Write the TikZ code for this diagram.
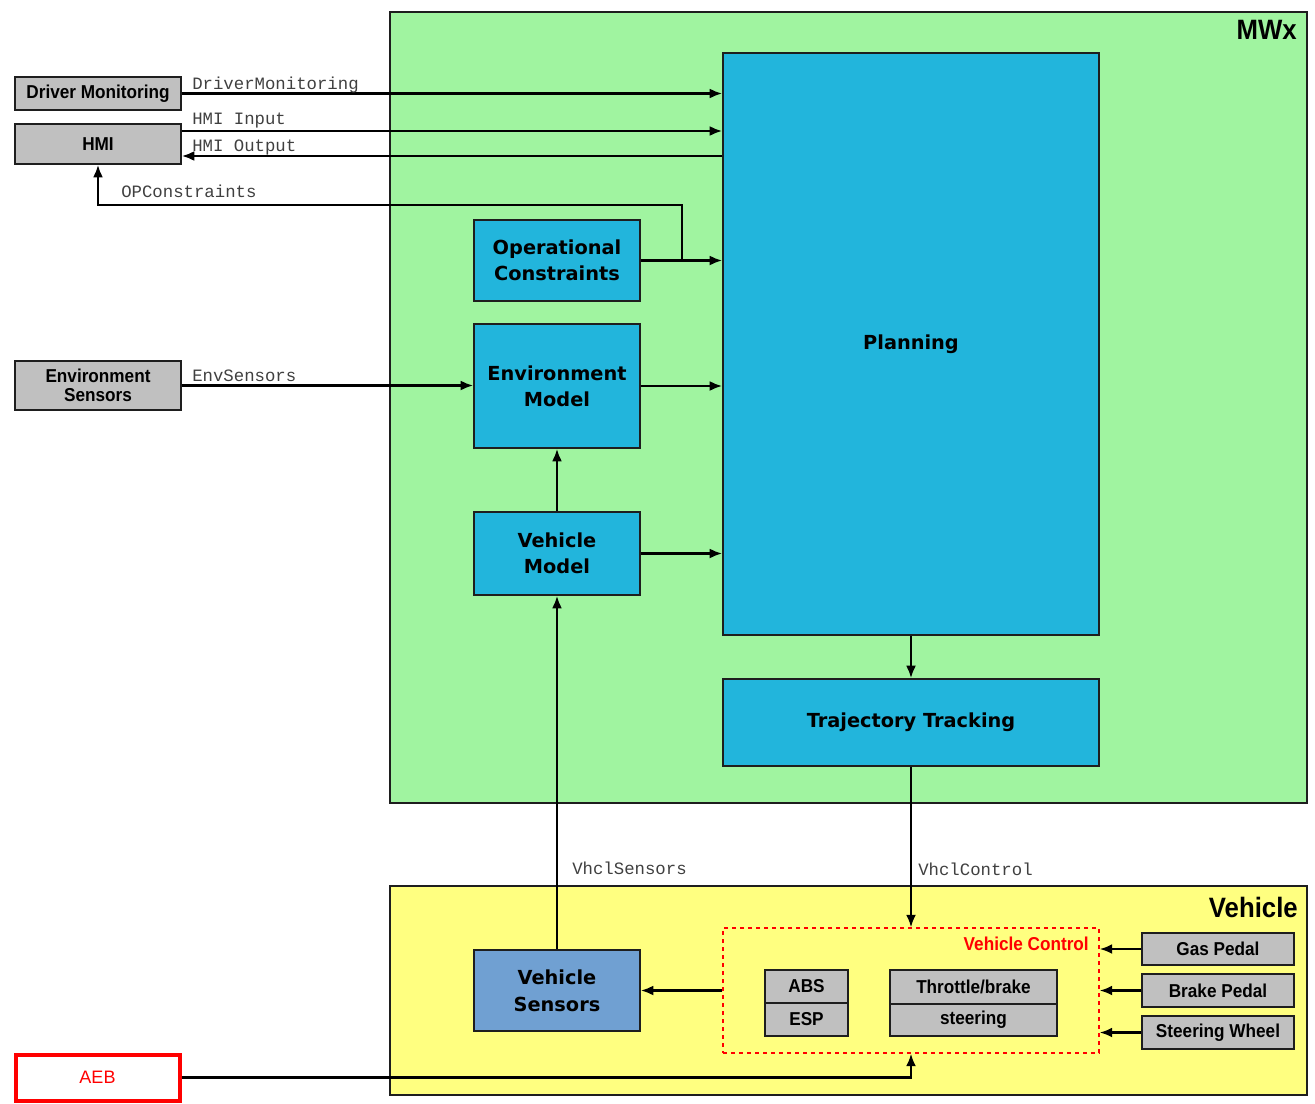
\documentclass[tikz,border=0pt]{standalone}
\usepackage{fontspec}
\usetikzlibrary{arrows.meta,calc}
\newfontfamily\narrowsans[FakeStretch=0.92]{Liberation Sans}
\newfontfamily\plainsans{Liberation Sans}
\newfontfamily\widesans{DejaVu Sans}
\newfontfamily\monofont{Liberation Mono}
\definecolor{mwxgreen}{RGB}{160,244,160}
\definecolor{vehyellow}{RGB}{255,255,128}
\definecolor{compblue}{RGB}{34,181,220}
\definecolor{sensblue}{RGB}{112,160,210}
\definecolor{boxgray}{RGB}{192,192,192}
\definecolor{edgedark}{RGB}{30,30,30}
\tikzset{
  container/.style={draw=edgedark, line width=1.8pt, inner sep=0pt},
  graybox/.style={draw=edgedark, fill=boxgray, line width=1pt, inner sep=0pt, align=center,
    font=\narrowsans\bfseries\fontsize{14}{14.5}\selectfont},
  bluebox/.style={draw=edgedark, fill=compblue, line width=1pt, inner sep=0pt, align=center,
    font=\widesans\bfseries\fontsize{14.5}{19.5}\selectfont},
  sigtext/.style={font=\monofont\fontsize{13}{13}\selectfont, text=black!75, inner sep=0pt, anchor=west},
  titletext/.style={font=\narrowsans\bfseries\fontsize{21}{21}\selectfont, inner sep=0pt, anchor=east},
  arr/.style={line width=1.9pt, draw=black, -{Latex[length=9.5pt,width=7.5pt]}},
}
\begin{document}
\begin{tikzpicture}[x=0.75pt,y=-0.75pt]
\useasboundingbox (0,0) rectangle (1315,1104);
% containers
\node[container, fill=mwxgreen, minimum width=687.75pt, minimum height=593.25pt] (mwx) at (848.5,407.5) {};
\node[titletext] (mwxtitle) at (1297,30) {MWx};
\node[container, fill=vehyellow, minimum width=687.75pt, minimum height=156.75pt] (veh) at (848.5,990.5) {};
\node[titletext] (vehtitle) at (1298,907) {Vehicle};
% external boxes
\node[graybox, minimum width=124.5pt, minimum height=24.75pt] (dm) at (98,93.5) {Driver Monitoring};
\node[graybox, minimum width=124.5pt, minimum height=30pt] (hmi) at (98,144) {HMI};
\node[graybox, minimum width=124.5pt, minimum height=36.75pt] (es) at (98,385.5) {Environment\\Sensors};
\node[draw=red, line width=3pt, fill=white, minimum width=123pt, minimum height=34.5pt, inner sep=0pt,
  text=red, font=\plainsans\fontsize{13.5}{13.5}\selectfont] (aeb) at (97.5,1077.5) {AEB};
% MWx components
\node[bluebox, minimum width=124.5pt, minimum height=60.75pt] (oc) at (557,260.5) {Operational\\Constraints};
\node[bluebox, minimum width=124.5pt, minimum height=93pt] (em) at (557,386) {Environment\\Model};
\node[bluebox, minimum width=124.5pt, minimum height=62.25pt] (vm) at (557,553.5) {Vehicle\\Model};
\node[bluebox, minimum width=282pt, minimum height=436.5pt] (pl) at (911,344) {\raisebox{-3pt}{Planning}};
\node[bluebox, minimum width=282pt, minimum height=65.25pt] (tt) at (911,722.5) {Trajectory Tracking};
% Vehicle components
\node[bluebox, fill=sensblue, minimum width=124.5pt, minimum height=60.75pt,
  font=\widesans\bfseries\fontsize{14.5}{20}\selectfont] (vs) at (557,990.5) {Vehicle\\Sensors};
\node[draw=red, dashed, line width=0.8pt, minimum width=282pt, minimum height=93.75pt, inner sep=0pt] (vc) at (911,990.5) {};
\node[inner sep=0pt, anchor=east, text=red, font=\narrowsans\bfseries\fontsize{14}{14}\selectfont] (vctitle) at (1089,944) {Vehicle Control};
\node[graybox, minimum width=62.25pt, minimum height=24.75pt] (abs) at (806.5,986.5) {ABS};
\node[graybox, minimum width=62.25pt, minimum height=24.75pt] (esp) at (806.5,1019.5) {ESP};
\node[graybox, minimum width=125.25pt, minimum height=25.5pt] (tb) at (973.5,987) {Throttle/brake};
\node[graybox, minimum width=125.25pt, minimum height=24pt] (st) at (973.5,1020) {steering};
\node[graybox, minimum width=114pt, minimum height=24pt] (gas) at (1218,949) {Gas Pedal};
\node[graybox, minimum width=114pt, minimum height=24.75pt] (brk) at (1218,990.5) {Brake Pedal};
\node[graybox, minimum width=114pt, minimum height=24.75pt] (sw) at (1218,1032.5) {Steering Wheel};
% connectors
\coordinate (hin) at ($(hmi.east)+(0,-13)$);
\coordinate (hout) at ($(hmi.east)+(0,12)$);
\coordinate (opj) at (682,260.5);
\coordinate (opc) at (682,205);
\draw[arr] (dm.east) -- (dm.east -| pl.west);
\draw[arr] (hin) -- (hin -| pl.west);
\draw[arr] (hout -| pl.west) -- (hout);
\draw[arr] (opj) -- (opc) -| (hmi.south);
\draw[arr] (oc.east) -- (oc.east -| pl.west);
\draw[arr] (es.east) -- (es.east -| em.west);
\draw[arr] (em.east) -- (em.east -| pl.west);
\draw[arr] (vm.north) -- (em.south);
\draw[arr] (vm.east) -- (vm.east -| pl.west);
\draw[arr] (pl.south) -- (tt.north);
\draw[arr] (tt.south) -- (vc.north);
\draw[arr] (vs.north) -- (vm.south);
\draw[arr] (vc.west) -- (vs.east);
\draw[arr] (gas.west) -- (gas.west -| vc.east);
\draw[arr] (brk.west) -- (brk.west -| vc.east);
\draw[arr] (sw.west) -- (sw.west -| vc.east);
\draw[arr] (aeb.east) -| (vc.south);
% signal labels
\node[sigtext] (ldm) at (192,85) {DriverMonitoring};
\node[sigtext] (lhi) at (192,121) {HMI Input};
\node[sigtext] (lho) at (192,147) {HMI Output};
\node[sigtext] (lop) at (121,191) {OPConstraints};
\node[sigtext] (les) at (192,376) {EnvSensors};
\node[sigtext] (lvs) at (572,868) {VhclSensors};
\node[sigtext] (lvc) at (918,869) {VhclControl};
\end{tikzpicture}
\end{document}
